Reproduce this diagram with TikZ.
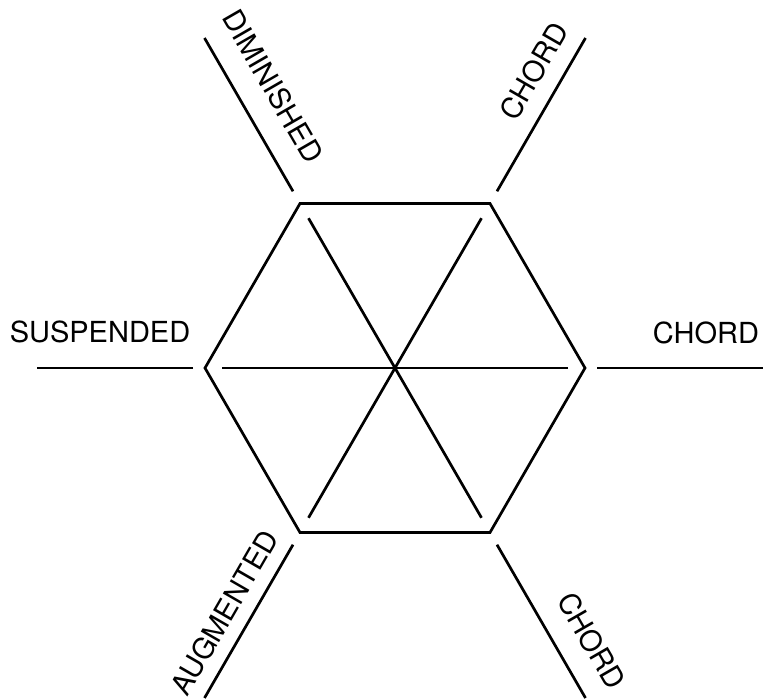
\documentclass[tikz,border=0pt]{standalone}
\usepackage{fontspec}
\setmainfont{TeX Gyre Heros}
\begin{document}
\begin{tikzpicture}[x=1pt,y=-1pt,
  edge/.style={line width=2.7pt, line cap=butt, line join=miter},
  lbl/.style={inner sep=0pt, font=\fontsize{29}{29}\selectfont}]
\useasboundingbox (0,0) rectangle (764,700);
% centre and hexagon vertices
\coordinate (c) at (395,368);
\coordinate (v0) at (585,368);
\coordinate (v1) at (490,203.5);
\coordinate (v2) at (300,203.5);
\coordinate (v3) at (205,368);
\coordinate (v4) at (300,532.5);
\coordinate (v5) at (490,532.5);
% inner spoke ends
\coordinate (s0) at (568,368);
\coordinate (s3) at (222,368);
\coordinate (s1) at (481.5,218.2);
\coordinate (s4) at (308.5,517.8);
\coordinate (s2) at (308.5,218.2);
\coordinate (s5) at (481.5,517.8);
% outer line ends
\coordinate (a0) at (597,368);   \coordinate (b0) at (763,368);
\coordinate (a1) at (497,191.3); \coordinate (b1) at (585.5,38);
\coordinate (a2) at (293,191.3); \coordinate (b2) at (204.5,38);
\coordinate (a3) at (193,368);   \coordinate (b3) at (37,368);
\coordinate (a4) at (293,544.7); \coordinate (b4) at (204.5,698);
\coordinate (a5) at (497,544.7); \coordinate (b5) at (585.5,698);
% hexagon
\draw[edge] (v0) -- (v1) -- (v2) -- (v3) -- (v4) -- (v5) -- cycle;
% spokes
\draw[edge] (s0) -- (s3);
\draw[edge] (s1) -- (s4);
\draw[edge] (s2) -- (s5);
% outer lines
\foreach \i in {0,...,5} \draw[edge] (a\i) -- (b\i);
% labels
\node[lbl] (dim) at (273,86) [rotate=-60] {DIMINISHED};
\node[lbl] (chtr) at (534,71) [rotate=60] {CHORD};
\node[lbl] (sus) at (100,332) {SUSPENDED};
\node[lbl] (chr) at (706,333) {CHORD};
\node[lbl] (aug) at (224.5,612.5) [rotate=60] {AUGMENTED};
\node[lbl] (chbr) at (591.7,640.8) [rotate=-60] {CHORD};
\end{tikzpicture}
\end{document}
